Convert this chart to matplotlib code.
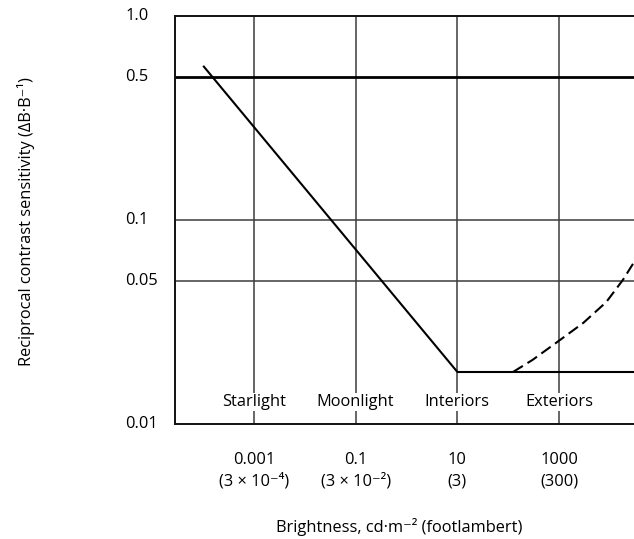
import matplotlib
matplotlib.use("Agg")
import matplotlib.pyplot as plt
import matplotlib.transforms as mtransforms

plt.rcParams['font.family'] = ['Open Sans', 'DejaVu Sans']

# Brightness (cd/m^2) and reciprocal contrast sensitivity
slope_lum = [1e-4, 10]
slope_contrast = [0.57, 0.018]

plateau_lum = [10, 3.0e4]
plateau_contrast = [0.018, 0.018]

glare_lum = [125, 300, 1000, 3000, 8500, 18000, 30000, 40000]
glare_contrast = [0.018, 0.0206, 0.0256, 0.0313, 0.0396, 0.0508, 0.0622, 0.072]

x_ticks = [1e-3, 1e-1, 10, 1000]
x_tick_cd = ["0.001", "0.1", "10", "1000"]
x_tick_fl = ["(3 × 10⁻⁴)", "(3 × 10⁻²)", "(3)", "(300)"]
regions = ["Starlight", "Moonlight", "Interiors", "Exteriors"]

y_ticks = [1.0, 0.5, 0.1, 0.05, 0.01]
y_tick_labels = ["1.0", "0.5", "0.1", "0.05", "0.01"]

W, H = 634, 539
fig = plt.figure(figsize=(W / 100, H / 100), dpi=100)
ax_left, ax_right, ax_top, ax_bottom = 175, 634, 16, 424
ax = fig.add_axes([ax_left / W, 1 - ax_bottom / H,
                   (ax_right - ax_left) / W, (ax_bottom - ax_top) / H])
ax.set_xscale('log')
ax.set_yscale('log')
ax.set_xlim(10 ** -4.554, 10 ** 4.475)
ax.set_ylim(0.01, 1.0)

ax.set_xticks([])
ax.set_yticks([])
ax.minorticks_off()
ax.tick_params(which='both', length=0, labelleft=False, labelbottom=False)

for side in ('left', 'top', 'bottom'):
    ax.spines[side].set_linewidth(1.4)
    ax.spines[side].set_color('#111111')
ax.spines['right'].set_visible(False)

grid_color = '#3c3c3c'
for xv in x_ticks:
    ax.axvline(xv, color=grid_color, lw=1.1, zorder=1)
for yv in [0.1, 0.05]:
    ax.axhline(yv, color=grid_color, lw=1.1, zorder=1)
ax.axhline(0.5, color='black', lw=2.0, zorder=1)

ax.plot(slope_lum, slope_contrast, color='black', lw=1.5, zorder=3,
        solid_capstyle='butt')
ax.plot(plateau_lum, plateau_contrast, color='black', lw=1.5, zorder=3,
        solid_capstyle='butt')
ax.plot(glare_lum, glare_contrast, color='black', lw=1.5, zorder=3,
        dashes=(5.5, 2.6))

fs = 11.8
xtr = ax.get_xaxis_transform()
axh = ax_bottom - ax_top


def y_axes(ypix):
    return (ax_bottom - ypix) / axh


for xv, name in zip(x_ticks, regions):
    ax.text(xv, y_axes(402), name, transform=xtr, ha='center', va='center',
            fontsize=fs, zorder=4,
            bbox=dict(facecolor='white', edgecolor='none', pad=1.0))

for xv, a, b in zip(x_ticks, x_tick_cd, x_tick_fl):
    ax.text(xv, y_axes(460), a, transform=xtr, ha='center', va='center',
            fontsize=fs, clip_on=False)
    ax.text(xv, y_axes(481), b, transform=xtr, ha='center', va='center',
            fontsize=fs, clip_on=False)

ytr = mtransforms.blended_transform_factory(fig.transFigure, ax.transData)
for yv, lab in zip(y_ticks, y_tick_labels):
    ax.text(125 / W, yv, lab, transform=ytr, ha='left', va='center',
            fontsize=fs, clip_on=False)

fig.text(399 / W, 1 - 527 / H, "Brightness, cd·m⁻² (footlambert)",
         ha='center', va='center', fontsize=fs)
fig.text(26 / W, 1 - 222 / H, "Reciprocal contrast sensitivity (ΔB·B⁻¹)",
         ha='center', va='center', rotation=90, fontsize=fs)

fig.savefig("out.png", dpi=100, facecolor='white')
